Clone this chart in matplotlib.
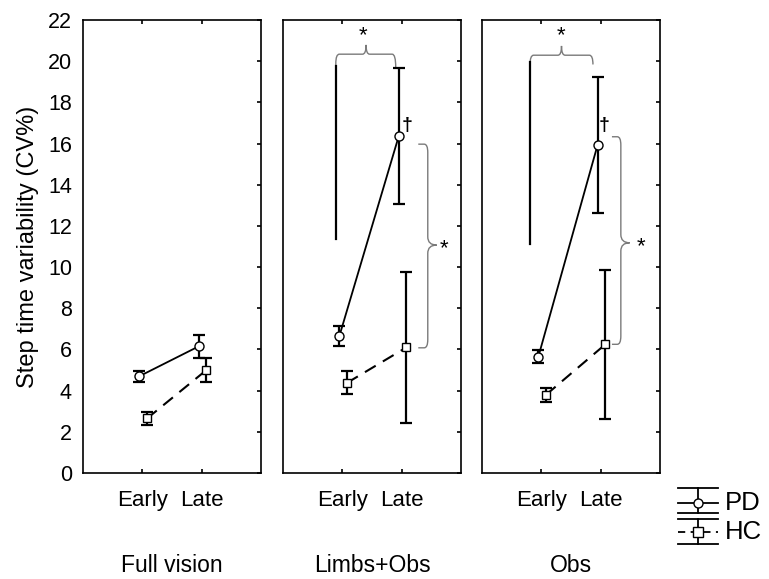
import numpy as np
import matplotlib.pyplot as plt
from matplotlib.path import Path
from matplotlib.patches import PathPatch

plt.rcParams["font.family"] = ["Liberation Sans", "DejaVu Sans"]

conditions = ["Full vision", "Limbs+Obs", "Obs"]
phases = ["Early", "Late"]

pd_mean = [[4.7, 6.15], [6.65, 16.35], [5.65, 15.95]]
pd_err = [[0.27, 0.55], [0.5, 3.3], [0.3, 3.3]]
hc_mean = [[2.65, 5.0], [4.38, 6.1], [3.8, 6.25]]
hc_err = [[0.3, 0.6], [0.56, 3.65], [0.35, 3.63]]

yticks = np.arange(0, 23, 2)

W, H = 769, 579
fig = plt.figure(figsize=(W / 100, H / 100), dpi=100)

panel_left = [83, 283, 482]
pw, top, bot = 178, 20, 473

GRAY = "#7a7a7a"


def hbrace(ax, x0, x1, xm, yb, yl, yr, cusp, rx, ry):
    verts = [(x0, yl), (x0, yb - ry), (x0, yb), (x0 + rx, yb),
             (xm - rx, yb), (xm, yb), (xm, yb + cusp),
             (xm, yb), (xm + rx, yb),
             (x1 - rx, yb), (x1, yb), (x1, yr)]
    codes = [Path.MOVETO, Path.LINETO, Path.CURVE3, Path.CURVE3,
             Path.LINETO, Path.CURVE3, Path.CURVE3,
             Path.CURVE3, Path.CURVE3,
             Path.LINETO, Path.CURVE3, Path.CURVE3]
    ax.add_patch(PathPatch(Path(verts, codes), fill=False, ec=GRAY, lw=1.0,
                           clip_on=False))


def vbrace(ax, xa, xb, ytop, ybot, ymid, tick, rx, ry):
    verts = [(xa, ytop), (xb - rx, ytop), (xb, ytop), (xb, ytop - ry),
             (xb, ymid + ry), (xb, ymid), (xb + tick, ymid),
             (xb, ymid), (xb, ymid - ry),
             (xb, ybot + ry), (xb, ybot), (xb - rx, ybot), (xa, ybot)]
    codes = [Path.MOVETO, Path.LINETO, Path.CURVE3, Path.CURVE3,
             Path.LINETO, Path.CURVE3, Path.CURVE3,
             Path.CURVE3, Path.CURVE3,
             Path.LINETO, Path.CURVE3, Path.CURVE3, Path.LINETO]
    ax.add_patch(PathPatch(Path(verts, codes), fill=False, ec=GRAY, lw=1.0,
                           clip_on=False))


x = np.array([1, 2])
for i, cond in enumerate(conditions):
    ax = fig.add_axes([panel_left[i] / W, (H - bot) / H, pw / W, (bot - top) / H])
    ax.set_xlim(0, 3)
    ax.set_ylim(0, 22)
    ax.set_xticks(x)
    ax.set_xticklabels(phases, fontsize=16)
    ax.set_yticks(yticks)
    if i == 0:
        ax.set_yticklabels([str(v) for v in yticks], fontsize=15.5)
        ax.set_ylabel("Step time variability (CV%)", fontsize=17, labelpad=6)
    else:
        ax.set_yticklabels([])
    for s in ax.spines.values():
        s.set_linewidth(1.2)
    ax.tick_params(axis="x", which="both", direction="in", top=True, length=3,
                   width=1.2, pad=12)
    ax.tick_params(axis="y", which="both", direction="in", right=True,
                   length=3, width=1.2, pad=8)
    ax.tick_params(axis="y", left=False)

    xp = x - 0.05
    xh = x + 0.08
    ax.errorbar(xp, pd_mean[i], yerr=pd_err[i], fmt="none", ecolor="black",
                elinewidth=1.6, capsize=4, capthick=1.6, zorder=2)
    ax.errorbar(xh, hc_mean[i], yerr=hc_err[i], fmt="none", ecolor="black",
                elinewidth=1.6, capsize=4, capthick=1.6, zorder=2)
    ax.plot(xp, pd_mean[i], "-", color="black", lw=1.3, marker="o",
            markersize=6.5, mfc="white", mec="black", mew=1.0, zorder=3)
    ax.plot(xh, hc_mean[i], "--", color="black", lw=1.5, dashes=(6, 4),
            marker="s", markersize=6, mfc="white", mec="black", mew=1.0,
            zorder=3)

    ax.text(0.5, -0.205, cond, transform=ax.transAxes, ha="center",
            va="center", fontsize=16.5)

    if i == 1:
        ax.plot([0.89, 0.89], [11.36, 19.76], color="black", lw=1.6)
        hbrace(ax, 0.89, 1.90, 1.40, 20.34, 19.8, 19.7, 0.45, 0.06, 0.45)
        ax.text(1.35, 21.25, "*", ha="center", va="center", fontsize=16)
        ax.text(2.09, 16.9, "\u2020", ha="center", va="center", fontsize=14,
                fontweight="bold")
        vbrace(ax, 2.28, 2.44, 15.97, 6.08, 11.07, 0.15, 0.06, 0.4)
        ax.text(2.72, 10.9, "*", ha="center", va="center", fontsize=16)
    elif i == 2:
        ax.plot([0.81, 0.81], [11.1, 19.94], color="black", lw=1.6)
        hbrace(ax, 0.81, 1.87, 1.34, 20.29, 19.9, 19.84, 0.45, 0.06, 0.45)
        ax.text(1.33, 21.25, "*", ha="center", va="center", fontsize=16)
        ax.text(2.05, 16.9, "\u2020", ha="center", va="center", fontsize=14,
                fontweight="bold")
        vbrace(ax, 2.19, 2.34, 16.33, 6.25, 11.18, 0.15, 0.06, 0.4)
        ax.text(2.68, 11.0, "*", ha="center", va="center", fontsize=16)

# legend drawn by hand in its own axes (pixel layout coords)
lg = fig.add_axes([668 / W, (H - 552) / H, 101 / W, 72 / H])
lg.set_xlim(668, 769)
lg.set_ylim(552, 480)
lg.axis("off")
for (yt, ym, yb, style, mk, lab) in [(488, 502.7, 513.3, "-", "o", "PD"),
                                      (519.3, 532.3, 544.3, "--", "s", "HC")]:
    lg.plot([678, 718], [yt, yt], color="black", lw=1.3)
    lg.plot([678, 718], [yb, yb], color="black", lw=1.3)
    lg.plot([698, 698], [yt, yb], color="black", lw=1.3)
    if style == "-":
        lg.plot([678, 718], [ym, ym], color="black", lw=1.3)
    else:
        lg.plot([678, 718], [ym, ym], color="black", lw=1.3, dashes=(4, 3))
    lg.plot([698], [ym], marker=mk, markersize=6.5, mfc="white", mec="black",
            mew=1.0)
    lg.text(725, ym, lab, ha="left", va="center", fontsize=18.5)

fig.savefig("out.png", dpi=100)
